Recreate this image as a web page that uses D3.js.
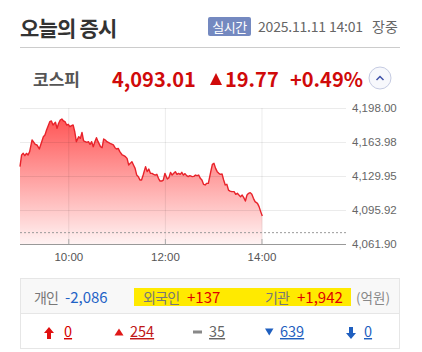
<!DOCTYPE html>
<html>
<head>
<meta charset="utf-8">
<script src="https://cdn.jsdelivr.net/npm/d3@7"></script>
<style>
  body { margin: 0; background: #fff; }
  svg text { font-family: "Noto Sans CJK KR", "Noto Sans", sans-serif; }
  .num { font-family: "Liberation Sans", Arial, sans-serif; }
</style>
</head>
<body>
<div class="container"></div>
<script>
const WIDTH = 422;
const HEIGHT = 352;

// chart plot box
const PLOT_LEFT = 20;
const PLOT_RIGHT = 346;
const PLOT_TOP = 108;
const PLOT_BOTTOM = 244;

// KOSPI intraday, 2025.11.11
var times = [
  "09:00","09:02","09:04","09:06","09:08","09:10","09:12","09:15","09:19","09:21",
  "09:24","09:27","09:29","09:31","09:33","09:37","09:39","09:41","09:44","09:46",
  "09:48","09:50","09:52","09:54","09:56","09:58","10:00","10:02","10:04","10:06",
  "10:08","10:10","10:13","10:15","10:17","10:19","10:21","10:23","10:25","10:27",
  "10:29","10:31","10:33","10:35","10:37","10:40","10:42","10:44","10:46","10:48",
  "10:52","10:56","10:58","11:00","11:02","11:04","11:07","11:09","11:11","11:13",
  "11:15","11:17","11:19","11:21","11:23","11:25","11:27","11:29","11:31","11:33",
  "11:36","11:38","11:40","11:42","11:44","11:46","11:48","11:50","11:52","11:54",
  "11:56","11:58","12:00","12:03","12:05","12:07","12:09","12:11","12:13","12:15",
  "12:17","12:19","12:21","12:23","12:25","12:27","12:29","12:31","12:34","12:36",
  "12:38","12:40","12:42","12:44","12:46","12:48","12:50","12:52","12:54","12:57",
  "12:59","13:01","13:03","13:05","13:07","13:09","13:11","13:13","13:15","13:17",
  "13:19","13:21","13:23","13:26","13:28","13:30","13:32","13:34","13:36","13:38",
  "13:40","13:42","13:44","13:46","13:48","13:50","13:52","13:55","13:57","13:59",
  "14:01"
];
var prices = [
  4139.3,4151.0,4152.6,4150.3,4152.6,4151.0,4154.3,4166.0,4161.6,4161.0,
  4157.0,4164.3,4169.3,4171.0,4176.0,4184.3,4185.0,4181.0,4183.7,4177.7,
  4182.7,4186.0,4187.0,4185.0,4184.3,4181.0,4181.7,4179.3,4180.3,4181.0,
  4174.3,4164.3,4169.3,4167.6,4173.6,4165.0,4164.3,4163.6,4164.3,4161.6,
  4164.3,4159.3,4164.3,4168.3,4164.3,4159.3,4158.3,4167.0,4166.0,4164.3,
  4162.6,4161.0,4158.3,4157.0,4157.6,4154.3,4151.0,4150.3,4149.3,4147.6,
  4141.0,4142.6,4144.3,4141.0,4137.6,4130.9,4129.3,4125.9,4125.9,4130.9,
  4139.3,4134.3,4136.9,4132.6,4132.6,4131.6,4130.9,4131.6,4127.6,4124.9,
  4124.9,4125.9,4132.6,4126.9,4128.3,4133.6,4130.9,4132.6,4134.3,4131.6,
  4132.6,4131.6,4133.6,4130.9,4132.3,4130.3,4129.3,4130.3,4129.3,4129.6,
  4130.9,4130.3,4130.9,4127.6,4125.9,4121.6,4121.0,4122.6,4122.6,4134.3,
  4141.6,4142.6,4137.6,4134.3,4132.6,4131.6,4131.9,4125.9,4121.0,4121.6,
  4115.9,4114.9,4114.3,4114.3,4111.6,4112.6,4110.9,4109.3,4110.9,4108.3,
  4104.9,4110.9,4112.6,4113.3,4111.6,4107.6,4104.3,4102.6,4099.3,4094.3,
  4090.0
];
var prevClose = 4073.24;
var yTicks = [4061.90, 4095.92, 4129.95, 4163.98, 4198.00];
var xTicks = ["10:00", "12:00", "14:00"];
var xDomain = ["09:00", "15:45"];

// header numbers
var indexName = "코스피";
var lastPrice = "4,093.01";
var change = "19.77";
var changePct = "+0.49%";
var stamp = "2025.11.11 14:01";

// investor flows (억원)
var investors = ["개인", "외국인", "기관"];
var flows = ["-2,086", "+137", "+1,942"];

// advance / decline counts
var breadth = ["0", "254", "35", "639", "0"];

var parseTime = d3.timeParse("%H:%M");

var svg = d3.select('.container').append('svg')
  .attr('width', WIDTH)
  .attr('height', HEIGHT);

// ---- header ----
svg.append('text')
  .attr('x', 20).attr('y', 36)
  .attr('font-size', 21).attr('font-weight', 700)
  .attr('letter-spacing', -0.8)
  .attr('fill', '#333')
  .text('오늘의 증시');

svg.append('rect')
  .attr('x', 208).attr('y', 17).attr('width', 43).attr('height', 19)
  .attr('rx', 2).attr('fill', '#7489c0');
svg.append('text')
  .attr('x', 229.5).attr('y', 31.5).attr('text-anchor', 'middle')
  .attr('font-size', 13).attr('fill', '#fff')
  .attr('letter-spacing', -0.5)
  .text('실시간');

svg.append('text')
  .attr('x', 258).attr('y', 32)
  .attr('font-size', 14).attr('fill', '#666')
  .attr('letter-spacing', -0.2)
  .text(stamp);
svg.append('text')
  .attr('x', 372).attr('y', 32)
  .attr('font-size', 14).attr('fill', '#666')
  .text('장중');

svg.append('line')
  .attr('x1', 20).attr('x2', 400).attr('y1', 47.5).attr('y2', 47.5)
  .attr('stroke', '#ccc');

svg.append('text')
  .attr('x', 33).attr('y', 86)
  .attr('font-size', 17).attr('font-weight', 700)
  .attr('fill', '#555')
  .text(indexName);

var red = '#d00a0a';
svg.append('text')
  .attr('x', 112).attr('y', 86.5)
  .attr('font-size', 20).attr('font-weight', 700)
  .attr('fill', red)
  .text(lastPrice);
svg.append('path')
  .attr('d', 'M210,85 L216,73 L222,85 Z')
  .attr('fill', red);
svg.append('text')
  .attr('x', 225).attr('y', 86.5)
  .attr('font-size', 20).attr('font-weight', 700)
  .attr('fill', red)
  .text(change);
svg.append('text')
  .attr('x', 290).attr('y', 86.5)
  .attr('font-size', 20).attr('font-weight', 700)
  .attr('fill', red)
  .text(changePct);

svg.append('circle')
  .attr('cx', 380).attr('cy', 78).attr('r', 11)
  .attr('fill', '#f7f8fc').attr('stroke', '#c5cbe2');
svg.append('path')
  .attr('d', 'M376.5,80 L380,76.5 L383.5,80')
  .attr('fill', 'none').attr('stroke', '#3f51a8').attr('stroke-width', 1.5);

// ---- chart ----
var data = times.map(function(t, i) {
  return { time: parseTime(t), value: prices[i] };
});

var xScale = d3.scaleTime()
  .domain(xDomain.map(parseTime))
  .range([PLOT_LEFT, PLOT_RIGHT]);

var yScale = d3.scaleLinear()
  .domain([yTicks[0], yTicks[yTicks.length - 1]])
  .range([PLOT_BOTTOM, PLOT_TOP]);

var defs = svg.append('defs');
var grad = defs.append('linearGradient')
  .attr('id', 'areaFill')
  .attr('gradientUnits', 'userSpaceOnUse')
  .attr('x1', 0).attr('x2', 0)
  .attr('y1', yScale(d3.max(prices))).attr('y2', PLOT_BOTTOM);
grad.append('stop').attr('offset', 0).attr('stop-color', '#ff5656');
grad.append('stop').attr('offset', 1).attr('stop-color', '#fff3f3');

var area = d3.area()
  .x(function(d) { return xScale(d.time); })
  .y0(PLOT_BOTTOM)
  .y1(function(d) { return yScale(d.value); });

svg.append('path')
  .datum(data)
  .attr('d', area)
  .attr('fill', 'url(#areaFill)');

// grid drawn over the fill, faint
var yAxis = d3.axisRight(yScale)
  .tickValues(yTicks)
  .tickSize(-(PLOT_RIGHT - PLOT_LEFT))
  .tickPadding(6)
  .tickFormat(d3.format(',.2f'));

var gy = svg.append('g')
  .attr('transform', 'translate(' + PLOT_RIGHT + ',0)')
  .call(yAxis);
gy.select('.domain').remove();
gy.selectAll('.tick line')
  .attr('stroke', function(d) { return d === yTicks[0] ? '#999' : 'rgba(0,0,0,0.08)'; });
gy.selectAll('.tick text')
  .attr('class', 'num')
  .attr('font-size', 11.5)
  .attr('fill', '#666');

var xAxis = d3.axisBottom(xScale)
  .tickValues(xTicks.map(parseTime))
  .tickSize(0)
  .tickPadding(9)
  .tickFormat(d3.timeFormat('%H:%M'));

var gx = svg.append('g')
  .attr('transform', 'translate(0,' + PLOT_BOTTOM + ')')
  .call(xAxis);
gx.select('.domain').remove();
gx.selectAll('.tick text')
  .attr('class', 'num')
  .attr('font-size', 11.5)
  .attr('fill', '#555');
gx.selectAll('.tick')
  .append('line')
  .attr('y1', 0).attr('y2', -(PLOT_BOTTOM - PLOT_TOP))
  .attr('stroke', 'rgba(0,0,0,0.08)');
gx.selectAll('.tick')
  .append('line')
  .attr('y1', 0).attr('y2', -5)
  .attr('stroke', '#aaa');

svg.append('line')
  .attr('x1', PLOT_LEFT).attr('x2', PLOT_RIGHT)
  .attr('y1', yScale(prevClose)).attr('y2', yScale(prevClose))
  .attr('stroke', '#999').attr('stroke-dasharray', '2,2');

var line = d3.line()
  .x(function(d) { return xScale(d.time); })
  .y(function(d) { return yScale(d.value); });

svg.append('path')
  .datum(data)
  .attr('d', line)
  .attr('fill', 'none')
  .attr('stroke', '#e8232b')
  .attr('stroke-width', 1.4)
  .attr('stroke-linejoin', 'round');

// ---- investor box ----
svg.append('rect')
  .attr('x', 20.5).attr('y', 278.5).attr('width', 379).attr('height', 70)
  .attr('fill', '#fff').attr('stroke', '#e6e6e6');
svg.append('rect')
  .attr('x', 20.5).attr('y', 278.5).attr('width', 379).attr('height', 35)
  .attr('fill', '#f8f8f8').attr('stroke', '#e6e6e6');
svg.append('rect')
  .attr('x', 134).attr('y', 288).attr('width', 217).attr('height', 18)
  .attr('fill', '#ffea00');

var blue = '#1f63c6';
var flowPos = [[34, 65], [143, 187], [265, 297]];
investors.forEach(function(name, i) {
  svg.append('text')
    .attr('x', flowPos[i][0]).attr('y', 303)
    .attr('font-size', 14).attr('fill', '#777')
    .attr('letter-spacing', -0.8)
    .text(name);
  svg.append('text')
    .attr('x', flowPos[i][1]).attr('y', 303)
    .attr('font-size', 15)
    .attr('fill', flows[i][0] === '-' ? blue : '#e00000')
    .text(flows[i]);
});
svg.append('text')
  .attr('x', 356).attr('y', 303)
  .attr('font-size', 13.5).attr('fill', '#888')
  .text('(억원)');

// ---- breadth row ----
var breadthColor = ['#d60000', '#c01818', '#666', '#1f5fbf', '#1f5fbf'];
var breadthX = [64, 130, 209, 280, 364];
var g = svg.append('g');

// 상한 arrow
g.append('path')
  .attr('d', 'M49,327 L54,333 L51,333 L51,339 L47,339 L47,333 L44,333 Z')
  .attr('fill', '#e01010');
// 상승 triangle
g.append('path')
  .attr('d', 'M114.5,335.5 L119,328.5 L123.5,335.5 Z')
  .attr('fill', '#e01818');
// 보합 dash
g.append('rect')
  .attr('x', 193).attr('y', 330.5).attr('width', 9).attr('height', 3)
  .attr('fill', '#888');
// 하락 triangle
g.append('path')
  .attr('d', 'M265,328.5 L273.5,328.5 L269.25,335.5 Z')
  .attr('fill', '#1f5fbf');
// 하한 arrow
g.append('path')
  .attr('d', 'M349,327 L353,327 L353,333 L356,333 L351,339 L346,333 L349,333 Z')
  .attr('fill', '#1f5fbf');

breadth.forEach(function(v, i) {
  g.append('text')
    .attr('x', breadthX[i]).attr('y', 337)
    .attr('font-size', 14.5)
    .attr('fill', breadthColor[i])
    .attr('text-decoration', 'underline')
    .text(v);
});
</script>
</body>
</html>
